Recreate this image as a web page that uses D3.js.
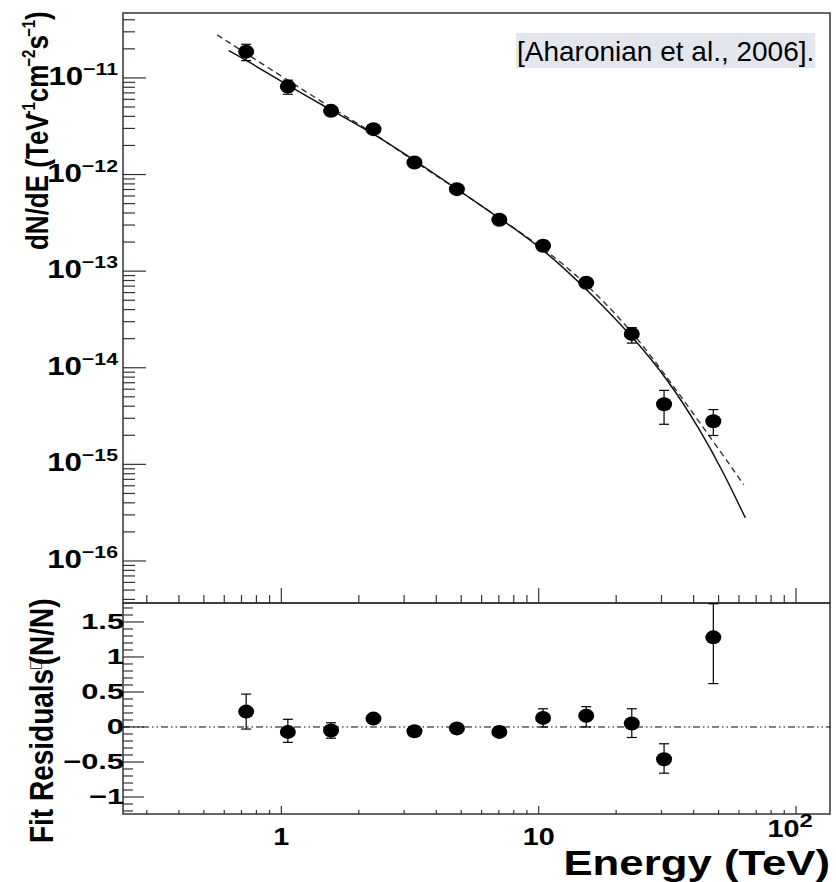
<!DOCTYPE html>
<html>
<head>
<meta charset="utf-8">
<script src="https://cdn.jsdelivr.net/npm/d3@7"></script>
<style>
  body { margin: 0; background: #fff; }
  text { font-family: "Liberation Sans", Arial, sans-serif; fill: #000; }
</style>
</head>
<body>
<div class="canvas"></div>
<script>
// measured points (energy in TeV, flux in TeV^-1 cm^-2 s^-1)
const energy = [0.73, 1.06, 1.56, 2.28, 3.29, 4.81, 7.03, 10.4, 15.3, 23.0, 30.7, 47.7];
const flux   = [1.87e-11, 8.13e-12, 4.56e-12, 2.95e-12, 1.33e-12, 7.06e-13, 3.40e-13, 1.83e-13, 7.59e-14, 2.24e-14, 4.19e-15, 2.79e-15];
const fluxLo = [1.51e-11, 6.78e-12, 4.2e-12, 2.75e-12, 1.25e-12, 6.6e-13, 3.15e-13, 1.68e-13, 6.9e-14, 1.80e-14, 2.60e-15, 1.99e-15];
const fluxHi = [2.23e-11, 9.48e-12, 4.9e-12, 3.15e-12, 1.41e-12, 7.5e-13, 3.65e-13, 1.98e-13, 8.3e-14, 2.60e-14, 5.83e-15, 3.69e-15];

// fit residuals of the same points
const resid   = [0.22, -0.07, -0.05, 0.12, -0.06, -0.02, -0.07, 0.13, 0.16, 0.05, -0.46, 1.28];
const residLo = [-0.03, -0.22, -0.16, 0.06, -0.11, -0.07, -0.12, 0.00, 0.00, -0.15, -0.66, 0.62];
const residHi = [0.47, 0.11, 0.06, 0.18, 0.00, 0.03, -0.02, 0.26, 0.29, 0.26, -0.24, 1.76];

// solid fit curve
const solidE = [0.624, 0.729, 1.062, 1.563, 2.284, 3.293, 4.812, 7.03, 10.41, 15.28, 23.0, 31.4, 42.4, 52.3, 63.5];
const solidF = [1.92e-11, 1.53e-11, 8.36e-12, 4.63e-12, 2.65e-12, 1.40e-12, 7.1e-13, 3.55e-13, 1.70e-13, 6.6e-14, 2.15e-14, 7.9e-15, 2.29e-15, 8.2e-16, 2.8e-16];

// dashed fit curve
const dashE = [0.563, 0.991, 1.563, 2.284, 3.293, 4.812, 7.03, 10.41, 15.28, 23.0, 29.6, 42.4, 62.6];
const dashF = [2.79e-11, 1.06e-11, 4.90e-12, 2.69e-12, 1.36e-12, 7.08e-13, 3.55e-13, 1.74e-13, 7.59e-14, 2.40e-14, 1.0e-14, 2.69e-15, 6.17e-16];

// tick labels
const fluxDecades = [1e-16, 1e-15, 1e-14, 1e-13, 1e-12, 1e-11];
const fluxExps = ['\u221216', '\u221215', '\u221214', '\u221213', '\u221212', '\u221211'];
const residTicks = [-1, -0.5, 0, 0.5, 1, 1.5];
const residLabels = ['\u22121', '\u22120.5', '0', '0.5', '1', '1.5'];
const energyTicks = [1, 10, 100];
const energyBase = ['1', '10', '10'];
const energyExps = ['', '', '2'];

const legendText = '[Aharonian et al., 2006].';

// frame of the two pads
const dims = { left: 123, right: 830, top: 13, split: 603, bottom: 814 };

const svg = d3.select('.canvas')
  .append('svg')
  .attr('width', 836)
  .attr('height', 882);

const x = d3.scaleLog().domain([0.2425, 135.5]).range([dims.left, dims.right]);
const y = d3.scaleLog().domain([Math.pow(10, -16.435), Math.pow(10, -10.328)]).range([dims.split, dims.top]);
const yr = d3.scaleLinear().domain([-1.243, 1.771]).range([dims.bottom, dims.split]);

const isDecade = v => Math.abs(Math.log10(v) - Math.round(Math.log10(v))) < 1e-6;
const frameColor = '#333';

// pad frames
[[dims.top, dims.split], [dims.split, dims.bottom]].forEach(([t, b]) => {
  svg.append('rect')
    .attr('x', dims.left).attr('y', t)
    .attr('width', dims.right - dims.left).attr('height', b - t)
    .attr('fill', 'none')
    .attr('stroke', frameColor)
    .attr('stroke-width', 1.5);
});

// ---- ticks ----
const ticks = svg.append('g').attr('stroke', frameColor).attr('stroke-width', 1.2);

// log y ticks, top pad
ticks.selectAll('.yt').data(y.ticks()).join('line')
  .attr('x1', dims.left).attr('x2', d => dims.left + (isDecade(d) ? 23 : 12))
  .attr('y1', d => y(d)).attr('y2', d => y(d));

// energy ticks on the bottom of the top pad (pointing up)
ticks.selectAll('.xt').data(x.ticks()).join('line')
  .attr('x1', d => x(d)).attr('x2', d => x(d))
  .attr('y1', dims.split).attr('y2', d => dims.split - (isDecade(d) ? 15 : 8));

// energy ticks on the bottom of the residual pad
ticks.selectAll('.xb').data(x.ticks()).join('line')
  .attr('x1', d => x(d)).attr('x2', d => x(d))
  .attr('y1', dims.bottom).attr('y2', d => dims.bottom - (isDecade(d) ? 8 : 4));

// residual y ticks, minor every 0.1
ticks.selectAll('.rt').data(yr.ticks(30)).join('line')
  .attr('x1', dims.left)
  .attr('x2', d => dims.left + (Math.abs(d * 2 - Math.round(d * 2)) < 1e-6 ? 21 : 10))
  .attr('y1', d => yr(d)).attr('y2', d => yr(d));

// ---- tick labels ----
const labels = svg.append('g').attr('font-weight', 'bold');

function powLabel(tx, ty, anchor, sx, base, exp, fs, fsExp, dyExp) {
  const t = labels.append('text')
    .attr('transform', `translate(${tx},${ty}) scale(${sx},1)`)
    .attr('text-anchor', anchor);
  t.append('tspan').attr('font-size', fs).text(base);
  if (exp) t.append('tspan').attr('font-size', fsExp).attr('dy', dyExp).text(exp);
}

fluxDecades.forEach((v, i) => powLabel(118, y(v) + 7, 'end', 1.25, '10', fluxExps[i], 25, 17, -10));
residTicks.forEach((v, i) => powLabel(124, yr(v) + 7, 'end', 1.4, residLabels[i], '', 22));
energyTicks.forEach((v, i) => powLabel(x(v) - (energyExps[i] ? 6 : 0), energyExps[i] ? 837 : 845, 'middle', 1.25, energyBase[i], energyExps[i], 23, 19, -10));

// ---- axis titles ----
labels.append('text')
  .attr('transform', 'translate(830,875) scale(1.25,1)')
  .attr('text-anchor', 'end')
  .attr('font-size', 35)
  .text('Energy (TeV)');

// rotated titles, glyphs widened like the rest of the plot
const yTitle = labels.append('text')
  .attr('transform', 'translate(48,250) scale(1.2,1) rotate(-90)')
  .attr('font-size', 26);
yTitle.append('tspan').text('dN/dE (TeV');
yTitle.append('tspan').attr('font-size', 15).attr('dy', -11).attr('dx', -6).text('\u22121');
yTitle.append('tspan').attr('dy', 11).text('cm');
yTitle.append('tspan').attr('font-size', 15).attr('dy', -11).attr('dx', -2).text('\u22122');
yTitle.append('tspan').attr('dy', 11).text('s');
yTitle.append('tspan').attr('font-size', 15).attr('dy', -11).attr('dx', -2).text('\u22121');
yTitle.append('tspan').attr('dy', 11).text(')');

const rTitle = labels.append('text')
  .attr('transform', 'translate(53,843) scale(1.2,1) rotate(-90)')
  .attr('font-size', 28);
rTitle.append('tspan').text('Fit Residuals');
rTitle.append('tspan').attr('font-size', 16).attr('font-weight', 'normal').attr('dy', -9).text('\u25A1');
rTitle.append('tspan').attr('dy', 9).attr('dx', -6).text('(N/N)');

// ---- fit curves ----
const curve = d3.line()
  .x(d => x(d[0]))
  .y(d => y(d[1]))
  .curve(d3.curveBasis);

svg.append('path')
  .attr('d', curve(d3.zip(dashE, dashF)))
  .attr('fill', 'none')
  .attr('stroke', '#333')
  .attr('stroke-width', 1.4)
  .attr('stroke-dasharray', '6,4');

svg.append('path')
  .attr('d', curve(d3.zip(solidE, solidF)))
  .attr('fill', 'none')
  .attr('stroke', '#111')
  .attr('stroke-width', 1.5);

// zero line in residual pad
svg.append('line')
  .attr('x1', dims.left).attr('x2', dims.right)
  .attr('y1', yr(0)).attr('y2', yr(0))
  .attr('stroke', '#000')
  .attr('stroke-width', 1)
  .attr('stroke-dasharray', '7,3,1.5,3,1.5,3');

// ---- points with error bars ----
function drawPoints(ys, vals, lo, hi) {
  const g = svg.append('g');
  const pts = energy.map((e, i) => ({ e, v: vals[i], lo: lo[i], hi: hi[i] }));
  g.selectAll('.bar').data(pts).join('line')
    .attr('x1', d => x(d.e)).attr('x2', d => x(d.e))
    .attr('y1', d => ys(d.lo)).attr('y2', d => ys(d.hi))
    .attr('stroke', '#000').attr('stroke-width', 1.2);
  ['lo', 'hi'].forEach(k => {
    g.selectAll('.cap' + k).data(pts).join('line')
      .attr('x1', d => x(d.e) - 5).attr('x2', d => x(d.e) + 5)
      .attr('y1', d => ys(d[k])).attr('y2', d => ys(d[k]))
      .attr('stroke', '#000').attr('stroke-width', 1.2);
  });
  g.selectAll('ellipse').data(pts).join('ellipse')
    .attr('cx', d => x(d.e))
    .attr('cy', d => ys(d.v))
    .attr('rx', 8).attr('ry', 7)
    .attr('fill', '#000');
}

drawPoints(y, flux, fluxLo, fluxHi);
drawPoints(yr, resid, residLo, residHi);

// ---- reference label ----
const leg = svg.append('g');
const legBg = leg.append('rect').attr('fill', '#e4e6ee');
const legT = leg.append('text')
  .attr('x', 517).attr('y', 61)
  .attr('font-size', 28)
  .text(legendText);
const bb = legT.node().getBBox();
legBg.attr('x', bb.x - 1).attr('y', 33).attr('width', bb.width + 2).attr('height', 35);
</script>
</body>
</html>
